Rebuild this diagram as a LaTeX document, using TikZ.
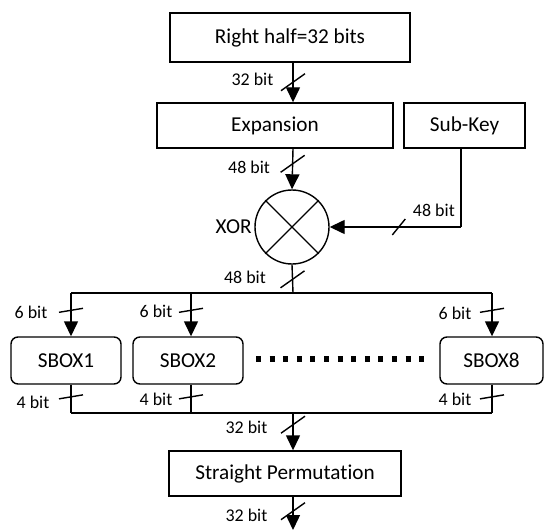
\documentclass[tikz,border=0pt]{standalone}
\usepackage{fontspec}
\setmainfont{Carlito}[Ligatures=NoCommon]
\usetikzlibrary{arrows.meta}

% short strokes that mark a bus width on a connector
\newcommand\vcut[1]{\draw ([shift={(-12,9)}]#1) -- ([shift={(12,-8)}]#1);}
\newcommand\scut[1]{\draw ([shift={(-7,8)}]#1) -- ([shift={(6,-8)}]#1);}
\newcommand\hcut[1]{\draw ([shift={(-12,2)}]#1) -- ([shift={(12,-2)}]#1);}

\begin{document}
\begin{tikzpicture}[x=1bp, y=-1bp, line width=1.4bp,
  box/.style={draw, rectangle, inner sep=0pt, minimum height=45bp,
    font=\fontsize{21.3}{24}\selectfont},
  sbox/.style={box, rounded corners=7bp, minimum width=110bp, minimum height=47bp},
  lbl/.style={inner sep=0pt, font=\fontsize{18}{20}\selectfont},
  arr/.style={-{Triangle[width=14bp,length=15bp]}},
  dots/.style={line width=6bp, dash pattern=on 5bp off 8.6bp}]
\useasboundingbox (0,0) rectangle (544,530);

% blocks
\node[box, minimum width=240bp, minimum height=49bp] (rh) at (290,37.5) {Right half=32 bits};
\node[box, minimum width=236bp] (exp) at (275,125.5) {Expansion};
\node[box, minimum width=121bp] (key) at (464.5,125.5) {Sub-Key};
\node[draw, circle, minimum size=74bp, inner sep=0pt] (xor) at (292,227) {};
\draw (xor.45) -- (xor.225) (xor.135) -- (xor.315);
\node[inner sep=0pt, font=\fontsize{21.3}{24}\selectfont, anchor=east] at ([xshift=-2bp]xor.west) {XOR};
\node[sbox] (s1) at (66,360.5) {SBOX1};
\node[sbox] (s2) at (188,360.5) {SBOX2};
\node[sbox, minimum width=103bp] (s8) at (491.5,360.5) {SBOX8};
\node[box, minimum width=232bp] (sp) at (285,473.5) {Straight Permutation};

% guide positions
\coordinate (mx) at (293,0);
\coordinate (kx) at (461,0);
\coordinate (busT) at (293,293);
\coordinate (busB) at (293,413);
\coordinate (d1) at (71,0);
\coordinate (d2) at (191,0);
\coordinate (d8) at (492,0);
\coordinate (out) at (293,530);
\coordinate (keyturn) at (461,227);

% main chain
\draw[arr] (rh.south -| mx) -- coordinate[pos=0.48] (c1) (exp.north -| mx);
\draw[arr] (exp.south -| mx) -- coordinate[pos=0.36] (c2) (xor.north);
\draw (key.south -| kx) -- (keyturn);
\draw[arr] (keyturn) -- coordinate[pos=0.47] (c3) (xor.east);
\draw (xor.south) -- coordinate[pos=0.5] (c4) (busT);

% top bus and s-box inputs
\draw (busT -| d1) -- (busT -| d8);
\draw[arr] (busT -| d1) -- coordinate[pos=0.4] (i1) (s1.north -| d1);
\draw[arr] (busT -| d2) -- coordinate[pos=0.4] (i2) (s2.north -| d2);
\draw[arr] (busT -| d8) -- coordinate[pos=0.4] (i8) (s8.north -| d8);

% s-box outputs and bottom bus
\draw (s1.south -| d1) -- coordinate[pos=0.43] (o1) (busB -| d1);
\draw (s2.south -| d2) -- coordinate[pos=0.43] (o2) (busB -| d2);
\draw (s8.south -| d8) -- coordinate[pos=0.43] (o8) (busB -| d8);
\draw (busB -| d1) -- (busB -| d8);
\draw[arr] (busB) -- coordinate[pos=0.3] (c5) (sp.north -| mx);
\draw[arr] (sp.south -| mx) -- coordinate[pos=0.42] (c6) (out);

% omitted s-boxes
\draw[dots] (256,358.5) -- (424,358.5);

% width marks
\vcut{c1} \vcut{c2} \scut{c3} \vcut{c4} \vcut{c5} \vcut{c6}
\hcut{i1} \hcut{i2} \hcut{i8} \hcut{o1} \hcut{o2} \hcut{o8}

% width labels
\node[lbl, anchor=east] at ([shift={(-19,-2)}]c1) {32 bit};
\node[lbl, anchor=east] at ([shift={(-22,4)}]c2) {48 bit};
\node[lbl, anchor=west] at ([shift={(13,-17)}]c3) {48 bit};
\node[lbl, anchor=east] at ([shift={(-26,-2)}]c4) {48 bit};
\node[lbl, anchor=east] at ([shift={(-23,2)}]i1) {6 bit};
\node[lbl, anchor=east] at ([shift={(-18,1)}]i2) {6 bit};
\node[lbl, anchor=east] at ([shift={(-20,3)}]i8) {6 bit};
\node[lbl, anchor=east] at ([shift={(-21,5)}]o1) {4 bit};
\node[lbl, anchor=east] at ([shift={(-18,2)}]o2) {4 bit};
\node[lbl, anchor=east] at ([shift={(-20,2)}]o8) {4 bit};
\node[lbl, anchor=east] at ([shift={(-25,3)}]c5) {32 bit};
\node[lbl, anchor=east] at ([shift={(-25,5)}]c6) {32 bit};
\end{tikzpicture}
\end{document}
